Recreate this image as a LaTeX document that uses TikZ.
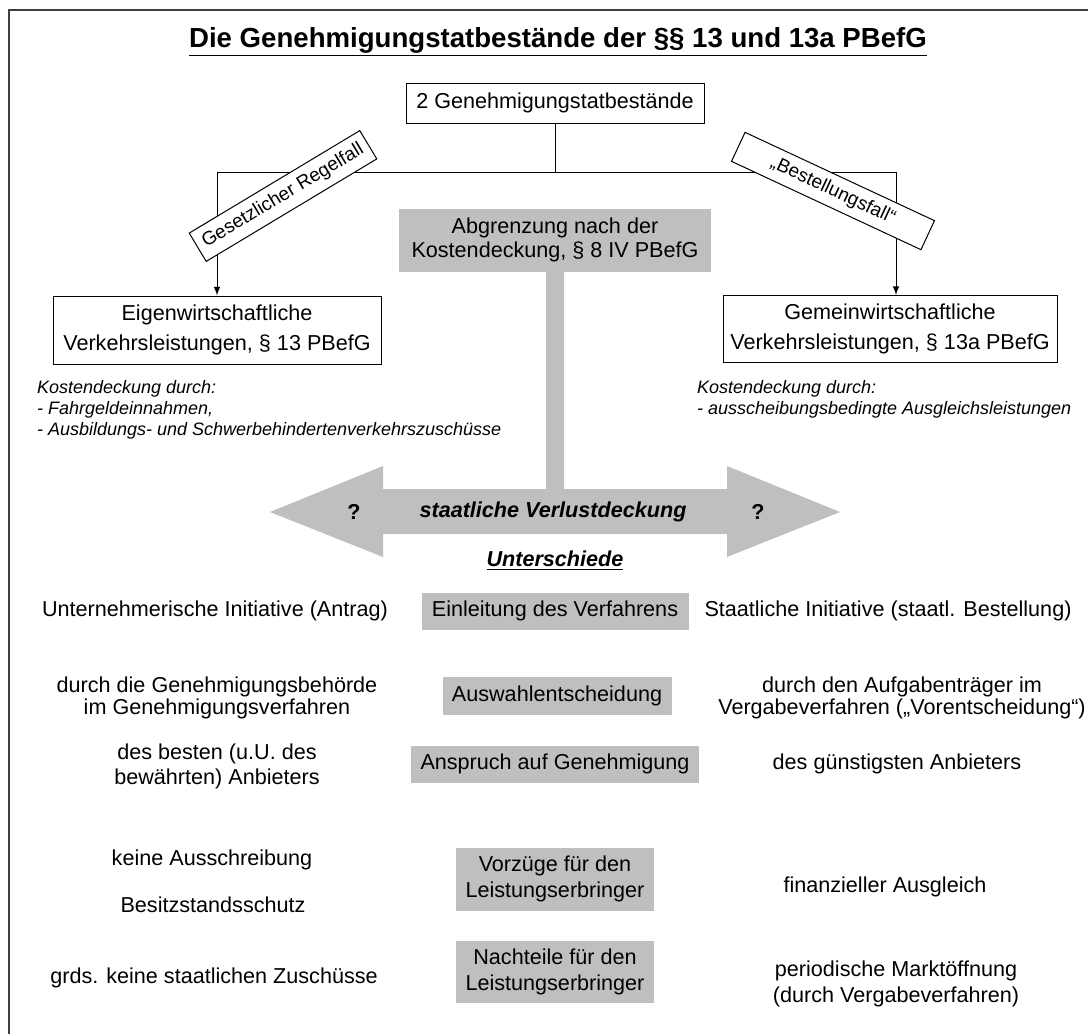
\documentclass[tikz,border=0pt]{standalone}
\usepackage{fontspec}
\setmainfont{Liberation Sans}
\usetikzlibrary{arrows}
\definecolor{boxgray}{gray}{0.75}
\tikzset{
  every node/.style={font=\fontsize{10.8}{13}\selectfont},
  whitebox/.style={draw, line width=0.5pt, fill=white, align=center, inner sep=2pt},
  graybox/.style={fill=boxgray, align=center, inner sep=2pt},
  tag/.style={draw, line width=0.5pt, fill=white, inner sep=1pt, font=\fontsize{9.5}{11}\selectfont},
  side/.style={align=center},
  note/.style={align=left, anchor=west, font=\fontsize{9}{10.5}\selectfont\itshape}
}

\begin{document}
\begin{tikzpicture}[x=0.5pt, y=-0.5pt]
  \useasboundingbox (0,0) rectangle (1088,1034);
  \draw [line width=1pt, black!75] (9,1034) -- (9,10) -- (1088,10);

  \node (title) at (558,42) {\fontsize{13.8}{16}\selectfont\bfseries\underline{Die Genehmigungstatbestände der §§ 13 und 13a PBefG}};

  \node [whitebox, minimum width=149pt, minimum height=20pt] (gen-tb) at (555,103) {2 Genehmigungstatbestände};
  \node [whitebox, minimum width=164pt, minimum height=34pt, font=\fontsize{10.8}{15}\selectfont] (eigen-vl) at (217,330) {Eigenwirtschaftliche\\Verkehrsleistungen, § 13 PBefG};
  \node [whitebox, minimum width=167pt, minimum height=33.5pt, font=\fontsize{10.8}{15}\selectfont] (gemein-vl) at (890,329) {Gemeinwirtschaftliche\\Verkehrsleistungen, § 13a PBefG};

  \coordinate (fork) at (gen-tb.south |- 0,172);
  \coordinate (fork-l) at (eigen-vl.north |- 0,172);
  \coordinate (fork-r) at (896,172);
  \draw [line width=0.5pt] (gen-tb) -- (fork);
  \draw [line width=0.5pt, -latex] (fork) -- (fork-l) -- (eigen-vl);
  \draw [line width=0.5pt, -latex] (fork) -- (fork-r) -- (fork-r |- gemein-vl.north);

  \node [tag, rotate=31, minimum width=99.5pt, minimum height=16.5pt] (regelfall) at (283,196) {Gesetzlicher Regelfall};
  \node [tag, rotate=-25, minimum width=104.5pt, minimum height=16pt] (bestellfall) at (833,191) {„Bestellungsfall“};

  \node [graybox, minimum width=156pt, minimum height=31.5pt, font=\fontsize{10.8}{12}\selectfont] (abgrenzung) at (555,240) {Abgrenzung nach der\\Kostendeckung, § 8 IV PBefG};

  \node [note] (kosten-l) at (30,410) {Kostendeckung durch:\\- Fahrgeldeinnahmen,\\- Ausbildungs- und Schwerbehindertenverkehrszuschüsse};
  \node [note] (kosten-r) at (690,399) {Kostendeckung durch:\\- ausscheibungsbedingte Ausgleichsleistungen};

  % Verlustdeckung
  \fill [boxgray] (270,512) -- (383,466) -- (383,489) -- (546,489) -- (546,271) -- (564,271)
    -- (564,489) -- (727,489) -- (727,466) -- (840,512) -- (727,557) -- (727,534)
    -- (383,534) -- (383,557) -- cycle;
  \node (frage-l) at (354,512) {\bfseries ?};
  \node (frage-r) at (758,512) {\bfseries ?};
  \node (verlust) at (553,512) {\bfseries\itshape staatliche Verlustdeckung};

  \node (unterschiede) at (555,561) {\bfseries\itshape\underline{Unterschiede}};

  % Unterschiede
  \node [graybox, minimum width=133.5pt, minimum height=18.5pt] (einleitung) at (555,611) {Einleitung des Verfahrens};
  \node [side] (einl-l) at (215,611) {Unternehmerische Initiative (Antrag)};
  \node [side] (einl-r) at (888,611) {Staatliche Initiative (staatl. Bestellung)};

  \node [graybox, minimum width=114.5pt, minimum height=19pt] (auswahl) at (557,696) {Auswahlentscheidung};
  \node [side, font=\fontsize{10.8}{11}\selectfont] (ausw-l) at (217,698) {durch die Genehmigungsbehörde\\im Genehmigungsverfahren};
  \node [side, font=\fontsize{10.8}{11}\selectfont] (ausw-r) at (902,698) {durch den Aufgabenträger im\\Vergabeverfahren („Vorentscheidung“)};

  \node [graybox, minimum width=144pt, minimum height=18.5pt] (anspruch) at (555,764) {Anspruch auf Genehmigung};
  \node [side, font=\fontsize{10.8}{12.5}\selectfont] (anspr-l) at (217,766) {des besten (u.U. des\\bewährten) Anbieters};
  \node [side] (anspr-r) at (897,764) {des günstigsten Anbieters};

  \node [graybox, minimum width=99pt, minimum height=31.5pt] (vorzuege) at (555,879) {Vorzüge für den\\Leistungserbringer};
  \node [side] (vorz-l1) at (212,860) {keine Ausschreibung};
  \node [side] (vorz-l2) at (213,905) {Besitzstandsschutz};
  \node [side] (vorz-r) at (885,887) {finanzieller Ausgleich};

  \node [graybox, minimum width=99pt, minimum height=31pt] (nachteile) at (555,972) {Nachteile für den\\Leistungserbringer};
  \node [side] (nacht-l) at (214,978) {grds. keine staatlichen Zuschüsse};
  \node [side] (nacht-r) at (896,984) {periodische Marktöffnung\\(durch Vergabeverfahren)};
\end{tikzpicture}
\end{document}
